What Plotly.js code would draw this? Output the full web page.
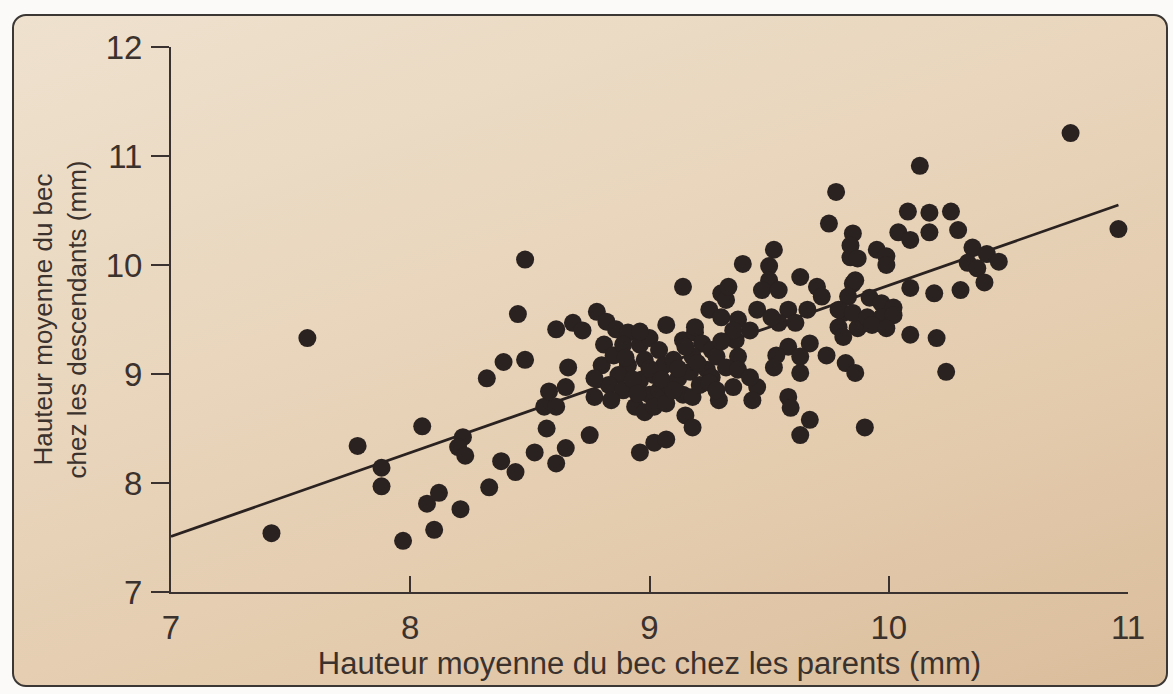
<!DOCTYPE html>
<html>
<head>
<meta charset="utf-8">
<script src="https://cdn.plot.ly/plotly-3.0.1.min.js"></script>
<style>
  html, body { margin: 0; padding: 0; background: #fbfaf8; }
  #wrap { position: relative; width: 1173px; height: 694px; overflow: hidden; background: #fbfaf8; }
  #frame { position: absolute; left: 12px; top: 14px; width: 1152px; height: 669px;
    border: 2px solid #3b3735; border-radius: 14px;
    background: linear-gradient(160deg, #eee1ce 0%, #e9d6bd 38%, #e3caac 72%, #dabd9b 100%); }
  #chart { position: absolute; left: 0; top: 0; width: 1173px; height: 694px; }
</style>
</head>
<body>
<div id="wrap">
  <div id="frame"></div>
  <div id="chart"></div>
</div>
<script>
// Parents' mean beak depth (mm)
const parentDepth = [
  7.42, 7.57, 7.78, 7.88, 7.88, 7.97, 8.05, 8.07, 8.12, 8.10,
  8.21, 8.22, 8.20, 8.23, 8.32, 8.33, 8.38, 8.39, 8.44, 8.45,
  8.48, 8.48, 8.52, 8.56, 8.61, 8.57, 8.58, 8.65, 8.61, 8.68,
  8.72, 8.66, 8.75, 8.65, 8.61, 8.80, 8.78, 8.82, 8.86, 8.91,
  8.96, 9.02, 9.07, 9.14, 9.15, 9.18, 8.81, 8.85, 8.89, 8.96,
  9.00, 9.04, 8.98, 8.91, 8.87, 8.83, 8.89, 8.96, 9.02, 9.06,
  9.10, 9.00, 9.04, 9.08, 9.12, 9.17, 8.77, 8.84, 8.94, 8.98,
  9.02, 9.07, 9.14, 9.18, 9.21, 8.77, 9.07, 9.14, 9.19, 9.22,
  9.18, 9.26, 9.24, 8.96, 9.19, 9.25, 9.30, 9.37, 9.45, 9.42,
  9.28, 9.36, 9.37, 9.32, 9.26, 9.35, 9.45, 9.29, 9.43, 9.37,
  9.30, 9.32, 9.33, 9.39, 9.52, 9.50, 9.50, 9.47, 9.54, 9.63,
  9.70, 9.72, 9.66, 9.58, 9.54, 9.61, 9.35, 9.42, 9.58, 9.67,
  9.53, 9.52, 9.63, 9.74, 9.63, 9.58, 9.59, 9.67, 9.63, 9.82,
  9.86, 9.81, 9.79, 9.87, 9.85, 9.84, 9.85, 9.84, 9.78, 9.75,
  10.13, 10.08, 10.17, 10.26, 10.04, 10.09, 10.17, 10.29, 10.35, 10.41,
  10.46, 10.33, 10.37, 10.40, 9.95, 9.99, 9.99, 9.87, 10.09, 10.19,
  10.30, 9.86, 9.83, 9.92, 9.97, 10.02, 9.79, 9.85, 9.91, 9.97,
  10.02, 9.93, 9.99, 9.81, 10.09, 10.20, 10.24, 9.90, 10.76, 10.96,
  9.51, 9.00, 8.93, 9.10, 9.05, 8.90, 9.15, 9.20, 9.25, 9.30,
  8.95, 9.12, 9.28
];
// Offspring mean beak depth (mm)
const offspringDepth = [
  7.54, 9.33, 8.34, 8.14, 7.97, 7.47, 8.52, 7.81, 7.91, 7.57,
  7.76, 8.42, 8.33, 8.25, 8.96, 7.96, 8.20, 9.11, 8.10, 9.55,
  9.13, 10.05, 8.28, 8.70, 8.70, 8.50, 8.84, 8.88, 9.41, 9.47,
  9.40, 9.06, 8.44, 8.32, 8.18, 9.08, 9.57, 9.48, 9.41, 9.38,
  8.28, 8.37, 8.40, 9.80, 8.62, 8.51, 9.27, 9.17, 9.27, 9.27,
  9.33, 9.22, 9.13, 9.08, 8.99, 8.90, 8.85, 8.94, 8.99, 9.08,
  9.13, 8.81, 8.85, 8.90, 8.96, 9.02, 8.79, 8.76, 8.70, 8.65,
  8.70, 8.73, 8.81, 8.79, 8.90, 8.96, 9.45, 9.31, 9.38, 9.28,
  9.16, 9.22, 9.04, 9.39, 9.43, 9.59, 9.52, 9.50, 9.59, 9.40,
  9.16, 9.31, 9.16, 9.06, 8.97, 8.88, 8.88, 8.76, 8.76, 9.04,
  9.74, 9.68, 9.80, 10.01, 10.14, 9.99, 9.86, 9.77, 9.77, 9.89,
  9.80, 9.71, 9.59, 9.59, 9.47, 9.47, 9.40, 8.97, 9.25, 9.28,
  9.17, 9.06, 9.16, 9.17, 9.01, 8.79, 8.69, 8.58, 8.44, 9.10,
  9.01, 9.56, 9.43, 9.42, 9.83, 10.07, 10.29, 10.18, 10.67, 10.38,
  10.91, 10.49, 10.48, 10.49, 10.30, 10.23, 10.30, 10.32, 10.16, 10.10,
  10.03, 10.02, 9.97, 9.84, 10.14, 10.08, 10.00, 10.06, 9.79, 9.74,
  9.77, 9.86, 9.71, 9.70, 9.65, 9.61, 9.59, 9.56, 9.52, 9.52,
  9.54, 9.45, 9.42, 9.34, 9.36, 9.33, 9.02, 8.51, 11.21, 10.33,
  9.52, 9.05, 8.95, 8.85, 8.95, 9.15, 9.25, 9.10, 8.92, 9.30,
  8.82, 9.05, 8.85
];
// Regression line end points
const fitX = [7.0, 10.96];
const fitY = [7.51, 10.55];

const xTickVals = [7, 8, 9, 10, 11];
const yTickVals = [7, 8, 9, 10, 11, 12];
const xTitle = "Hauteur moyenne du bec chez les parents (mm)";
const yTitle = "Hauteur moyenne du bec<br>chez les descendants (mm)";

const ink = "#2a2220";
const textCol = "#3b322e";
const fontFam = "Liberation Sans, Arial, sans-serif";

const traces = [
  {
    x: fitX, y: fitY, mode: "lines", type: "scatter",
    line: { color: ink, width: 2.8 }, hoverinfo: "skip", showlegend: false
  },
  {
    x: parentDepth, y: offspringDepth, mode: "markers", type: "scatter",
    marker: { color: ink, size: 18, line: { width: 0 } }, showlegend: false
  }
];

const layout = {
  width: 1173, height: 694,
  margin: { l: 171, r: 45, t: 47, b: 102 },
  paper_bgcolor: "rgba(0,0,0,0)",
  plot_bgcolor: "rgba(0,0,0,0)",
  showlegend: false,
  font: { family: fontFam, color: textCol },
  xaxis: {
    range: [7, 11], tickvals: xTickVals, ticktext: xTickVals.map(String),
    showgrid: false, zeroline: false,
    showline: true, linecolor: "#3a3230", linewidth: 2,
    ticks: "inside", ticklen: 16, tickwidth: 2, tickcolor: "#3a3230",
    tickfont: { size: 33, color: textCol, family: fontFam },
    ticklabelstandoff: 5,
    title: { text: xTitle, font: { size: 31, color: textCol, family: fontFam }, standoff: 2 },
    automargin: false
  },
  yaxis: {
    range: [7, 12], tickvals: yTickVals, ticktext: yTickVals.map(String),
    showgrid: false, zeroline: false,
    showline: true, linecolor: "#3a3230", linewidth: 2,
    ticks: "outside", ticklen: 18, tickwidth: 2, tickcolor: "#3a3230",
    tickfont: { size: 33, color: textCol, family: fontFam },
    ticklabelstandoff: 2,
    title: { text: yTitle, font: { size: 26, color: textCol, family: fontFam }, standoff: 12 },
    automargin: false
  }
};

Plotly.newPlot("chart", traces, layout, { displayModeBar: false, staticPlot: true });
</script>
</body>
</html>
